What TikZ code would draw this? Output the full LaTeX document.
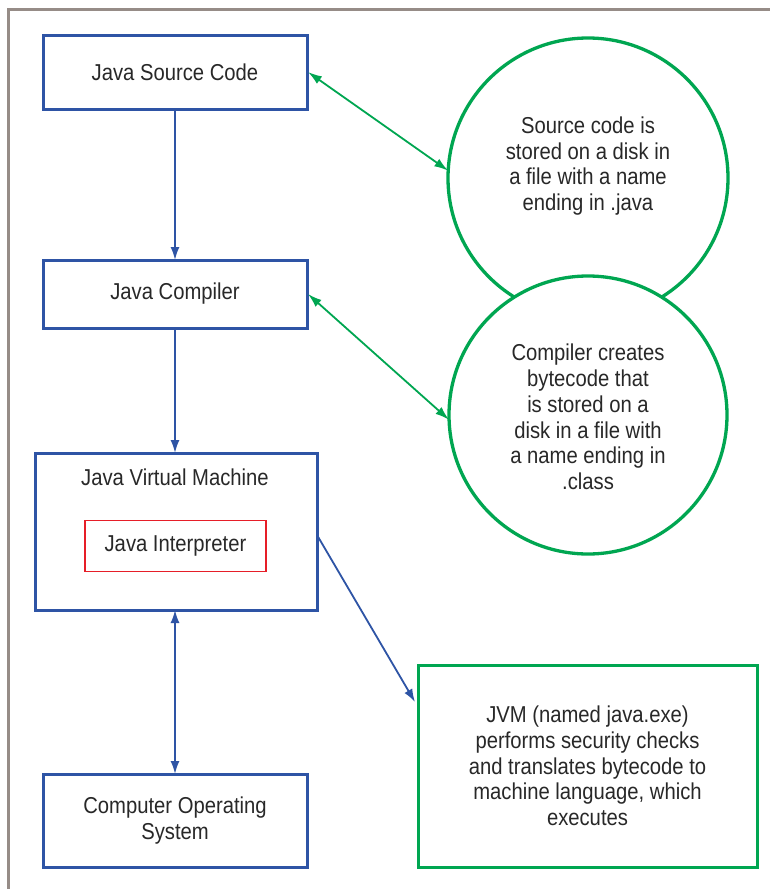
\documentclass[tikz,border=0pt]{standalone}
\usepackage{fontspec}
\setmainfont{Liberation Sans}[FakeStretch=0.88]
\usetikzlibrary{arrows.meta}
\definecolor{jblue}{RGB}{46,84,165}
\definecolor{jgreen}{RGB}{0,166,81}
\definecolor{jred}{RGB}{230,30,40}
\definecolor{jgray}{RGB}{150,140,135}
\definecolor{jtext}{RGB}{40,40,40}
\begin{document}
\begin{tikzpicture}[x=1pt,y=-1pt,
  every node/.style={font=\fontsize{23}{25.7}\selectfont, text=jtext, inner sep=0pt, outer sep=0pt},
  bbox/.style={draw=jblue, line width=3pt, rectangle},
  gbox/.style={draw=jgreen, line width=3pt, rectangle},
  rbox/.style={draw=jred, line width=1.7pt, rectangle},
  gcirc/.style={draw=jgreen, line width=3.3pt, circle, fill=white, minimum size=280pt},
  barrow/.style={draw=jblue, line width=1.8pt, -{Latex[length=13pt,width=9pt]}},
  bdarrow/.style={draw=jblue, line width=1.8pt, {Latex[length=13pt,width=9pt]}-{Latex[length=13pt,width=9pt]}},
  gdarrow/.style={draw=jgreen, line width=1.8pt, {Latex[length=14pt,width=9pt]}-{Latex[length=14pt,width=9pt]}},
  ctext/.style={align=center}
]
\useasboundingbox (0,0) rectangle (770,889);
\fill[white] (0,0) rectangle (770,889);
\draw[jgray, line width=3pt] (8,889) -- (8,9) -- (770,9);

\node[bbox, minimum width=264pt, minimum height=74pt] (b1) at (175,72) {Java Source Code};
\node[bbox, minimum width=264pt, minimum height=68pt] (b2) at (175,294) {Java Compiler};
\node[bbox, minimum width=282pt, minimum height=157pt] (b3) at (176,531.5) {};
\node (jvm) at (175,477) {Java Virtual Machine};
\node[rbox, minimum width=181pt, minimum height=51pt] (ji) at (175.5,546) {Java Interpreter};
\node[bbox, minimum width=264pt, minimum height=93pt, ctext] (b4) at (175,820.5) {Computer Operating\\System};
\node[gbox, minimum width=339pt, minimum height=202pt, ctext] (g) at (587.5,766) {JVM (named java.exe)\\performs security checks\\and translates bytecode to\\machine language, which\\executes};

\node[gcirc] (c1) at (588,178) {};
\node[ctext] (t1) at (588,166) {Source code is\\stored on a disk in\\a file with a name\\ending in .java};
\node[gcirc, minimum size=278pt] (c2) at (588,415) {};
\node[ctext] (t2) at (588,417) {Compiler creates\\bytecode that\\is stored on a\\disk in a file with\\a name ending in\\.class};

\draw[barrow] (b1.south) -- (b2.north);
\draw[barrow] (b2.south) -- (b2.south |- b3.north);
\draw[bdarrow] (b4.north |- b3.south) -- (b4.north);
\draw[barrow] ([yshift=-3.5pt]b3.east) -- ([xshift=-3pt,yshift=-37pt]g.north west);
\draw[gdarrow] ([xshift=1pt]b1.east) -- (c1.177);
\draw[gdarrow] ([xshift=1pt]b2.east) -- (c2.182);
\end{tikzpicture}
\end{document}
